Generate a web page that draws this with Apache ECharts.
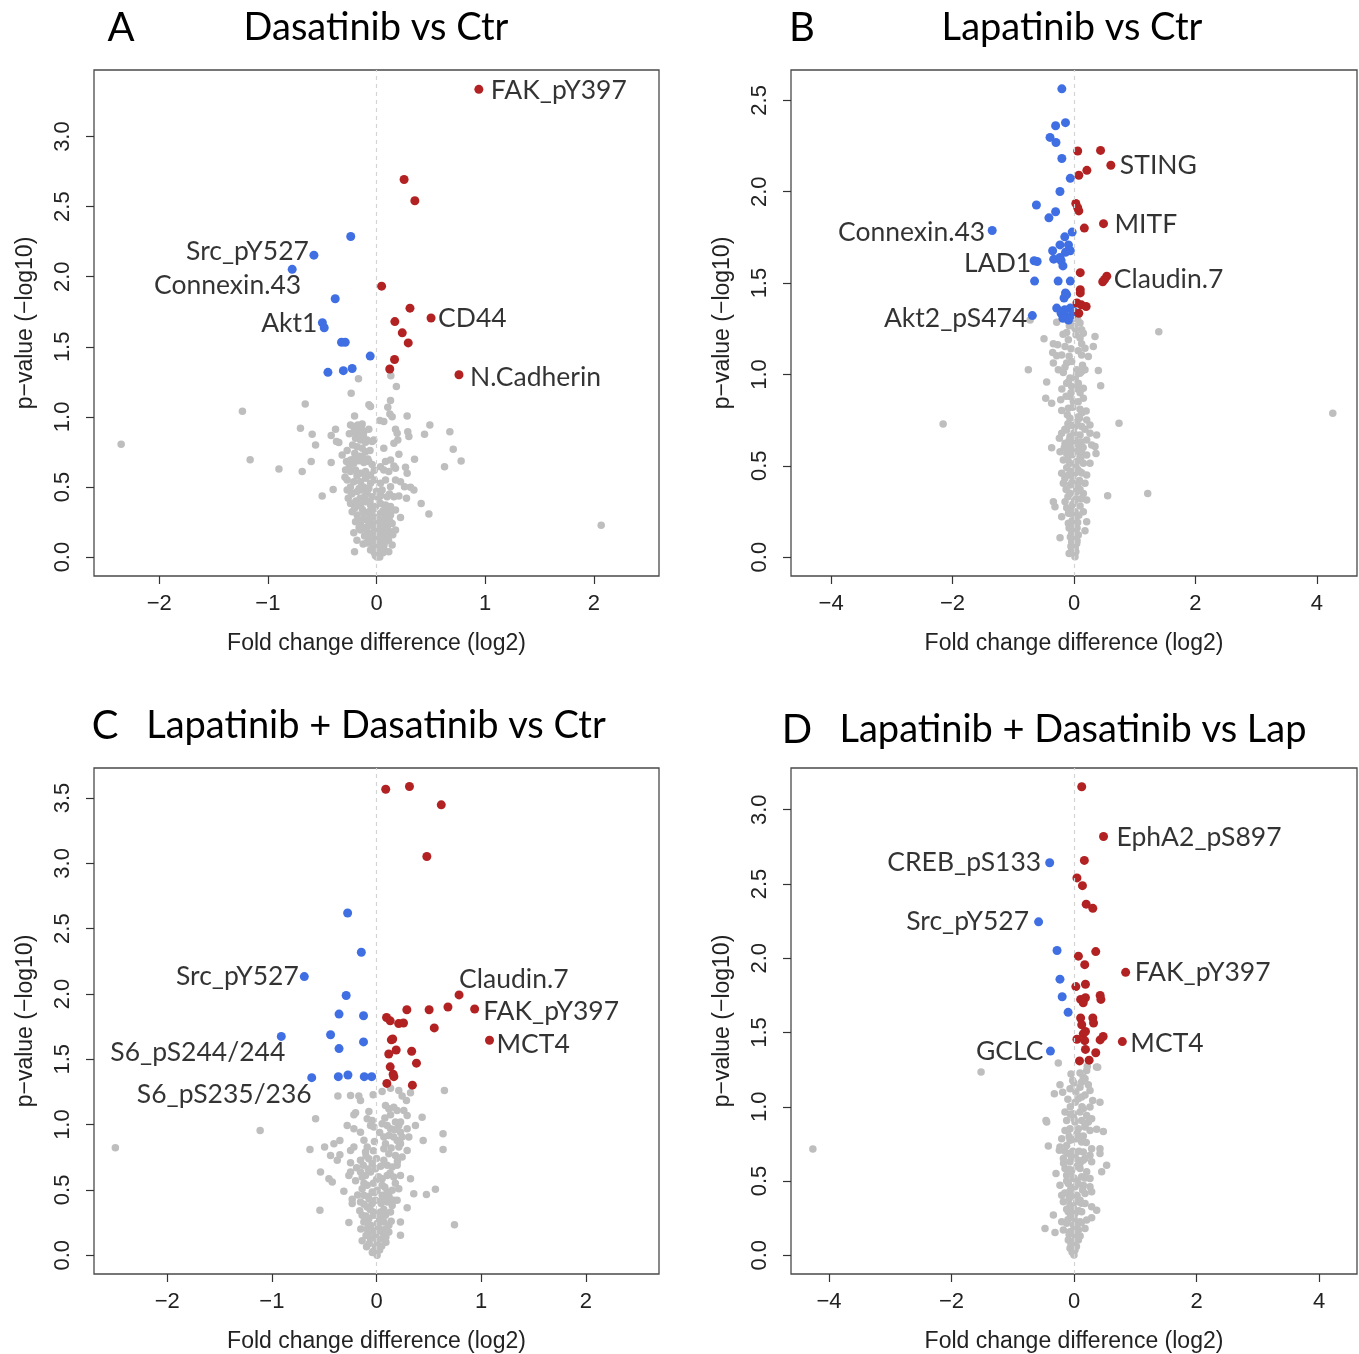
<!DOCTYPE html>
<html><head><meta charset="utf-8">
<script src="https://cdn.jsdelivr.net/npm/echarts@6/dist/echarts.min.js"></script>
<style>html,body{margin:0;padding:0;background:#fff}#c{width:1359px;height:1354px}</style>
</head><body><div id="c"></div>
<script>
// ---------- Panel A: Dasatinib vs Ctr ----------
const redA = [[0.942,3.337],[0.254,2.694],[0.353,2.542],[0.047,1.933],[0.308,1.776],[0.502,1.706],[0.169,1.68],[0.237,1.6],[0.292,1.528],[0.166,1.41],[0.122,1.342],[0.759,1.301]];
const blueA = [[-0.237,2.287],[-0.576,2.154],[-0.776,2.053],[-0.38,1.843],[-0.498,1.672],[-0.481,1.636],[-0.322,1.533],[-0.288,1.533],[-0.058,1.434],[-0.447,1.318],[-0.305,1.33],[-0.224,1.345]];
const grayA = [[-2.35,0.805],[-1.234,1.041],[-1.163,0.694],[-0.898,0.629],[-0.166,1.272],[0.132,1.294],[0.183,1.217],[2.068,0.227],[-0.233,1.169],[-0.656,1.093],
[-0.07,1.086],[-0.055,1.074],[0.129,1.117],[0.104,1.069],[0.123,1.021],[0.144,1.002],[-0.202,1.007],[0.282,1.007],[0.031,0.974],[0.067,0.967],[0.491,0.943],[0.675,0.895],[0.442,0.876],[0.288,0.895],[0.298,0.86],[0.175,0.912],[0.19,0.883],[0.196,0.836],[0.16,0.812],[-0.70,0.919],[-0.592,0.876],[-0.561,0.80],[-0.377,0.912],[-0.417,0.867],[-0.368,0.824],[-0.347,0.817],
[-0.239,0.943],[-0.209,0.931],[-0.172,0.943],[-0.132,0.95],[-0.209,0.895],[-0.163,0.883],[-0.117,0.895],[-0.071,0.912],[-0.193,0.848],[-0.147,0.836],[-0.086,0.836],[-0.04,0.824],[-0.178,0.788],[-0.132,0.776],[-0.101,0.752],[-0.025,0.836],[0.067,0.776],[0.206,0.733],[0.35,0.698],[0.626,0.645],[0.706,0.769],[0.779,0.686],[-0.601,0.681],[-0.417,0.674],[-0.684,0.61],[-0.316,0.729],
[-0.276,0.681],[-0.239,0.693],[-0.209,0.669],[-0.163,0.688],[-0.117,0.674],[-0.071,0.681],[0.037,0.645],[0.083,0.681],[0.129,0.693],[0.16,0.65],[0.067,0.621],[0.113,0.61],[0.175,0.633],[0.267,0.64],[0.282,0.598],[-0.285,0.621],[-0.239,0.61],[-0.193,0.621],[-0.147,0.598],[-0.101,0.61],[-0.055,0.586],
[-0.27,0.55],[-0.209,0.538],[-0.147,0.538],[-0.101,0.562],[-0.055,0.526],[0.037,0.526],[0.083,0.55],[0.129,0.502],[0.175,0.55],[0.221,0.538],[0.258,0.502],[0.313,0.498],[0.344,0.479],[-0.399,0.483],[-0.50,0.436],[-0.27,0.479],[-0.224,0.455],[-0.178,0.467],[-0.132,0.479],[-0.086,0.455],[-0.04,0.431],[0.052,0.479],[0.098,0.431],[0.16,0.431],[0.206,0.436],[0.276,0.419],[0.411,0.383],[0.482,0.307],
[-0.239,0.383],[-0.193,0.36],[-0.147,0.371],[-0.101,0.395],[-0.055,0.371],[-0.009,0.36],[0.037,0.383],[0.083,0.371],[0.129,0.36],[0.175,0.336],[-0.224,0.324],[-0.178,0.30],[-0.117,0.312],[-0.071,0.324],[-0.025,0.288],[0.037,0.312],[0.083,0.288],[0.129,0.30],[0.221,0.283],
[-0.193,0.252],[-0.147,0.24],[-0.086,0.264],[-0.04,0.229],[0.006,0.24],[0.052,0.252],[0.098,0.229],[0.144,0.24],[-0.209,0.174],[-0.147,0.193],[-0.086,0.181],[-0.04,0.169],[0.021,0.181],[0.067,0.169],[0.129,0.181],[0.175,0.193],[-0.123,0.093],[-0.071,0.121],[-0.009,0.11],[0.037,0.133],[0.098,0.121],[0.144,0.086],[-0.202,0.038],[-0.055,0.05],[0.006,0.026],[0.067,0.062],[0.113,0.038],[0.005,0.0],
[-0.16,0.72],[-0.2,0.74],[-0.08,0.7],[-0.24,0.5],[-0.12,0.5],[-0.02,0.55],[0.02,0.42],[-0.15,0.42],[-0.26,0.42],[-0.06,0.3],[0.08,0.34],[0.0,0.2],[-0.1,0.21],[0.1,0.21],[0.03,0.09],[-0.04,0.07],[0.06,0.03],[-0.03,0.14],[0.09,0.15],[-0.18,0.12],[-0.12,0.86],[-0.22,0.8],[-0.06,0.76],
[-0.25,0.88],[-0.19,0.9],[-0.14,0.92],[-0.1,0.82],[-0.27,0.76],[-0.21,0.7],[-0.13,0.72],[-0.04,0.66],[-0.25,0.65],[-0.18,0.58],[-0.08,0.58],[-0.02,0.62],[-0.29,0.57],[-0.23,0.45],[-0.16,0.49],[-0.07,0.49],[0.0,0.47],[-0.19,0.4],[-0.11,0.43],[-0.06,0.4],[0.04,0.44],[0.12,0.45],[-0.2,0.35],[-0.13,0.34],[-0.03,0.34],[0.06,0.33],[0.11,0.32],[-0.17,0.27],[-0.12,0.27],[-0.05,0.26],[0.02,0.27],[0.07,0.26],[0.12,0.26],[-0.16,0.21],[-0.08,0.22],[-0.02,0.2],[0.04,0.21],[0.08,0.19],[0.15,0.16],[-0.11,0.15],[-0.05,0.16],[0.01,0.15],[0.05,0.13],[0.11,0.12],[-0.09,0.1],[-0.03,0.1],[0.02,0.07],[0.07,0.09],[-0.02,0.03],[0.04,0.05],[0.03,0.0],[-0.01,0.01]];
const labelsA = [['FAK_pY397',0.942,3.337],['Src_pY527',-0.576,2.154],['Connexin.43',-0.776,2.053],['Akt1',-0.498,1.672],['CD44',0.502,1.706],['N.Cadherin',0.759,1.301]];

// ---------- Panel B: Lapatinib vs Ctr ----------
const redB = [[0.061,2.223],[0.437,2.226],[0.607,2.145],[0.212,2.117],[0.079,2.09],[0.03,1.936],[0.079,1.895],[0.061,1.912],[0.486,1.825],[0.17,1.801],[0.103,1.557],[0.54,1.538],[0.473,1.507],[0.504,1.52],[0.103,1.464],[0.103,1.446],[0.049,1.391],[0.121,1.381],[0.2,1.372],[0.079,1.335]];
const blueB = [[-0.2,2.563],[-0.14,2.378],[-0.303,2.361],[-0.395,2.297],[-0.297,2.269],[-0.2,2.182],[-0.061,2.073],[-0.231,2.001],[-0.619,1.927],[-0.303,1.89],[-0.413,1.857],[-1.347,1.788],[-0.03,1.779],[-0.152,1.753],[-0.231,1.709],[-0.091,1.709],[-0.061,1.677],[-0.14,1.668],[-0.352,1.677],[-0.334,1.631],[-0.212,1.622],[-0.182,1.594],[-0.231,1.64],[-0.656,1.622],[-0.607,1.618],[-0.649,1.511],[-0.261,1.511],[-0.061,1.511],[-0.14,1.446],[-0.164,1.418],[-0.121,1.437],[-0.285,1.363],[-0.152,1.354],[-0.061,1.363],[-0.212,1.335],[-0.121,1.317],[-0.03,1.326],[-0.182,1.307],[-0.091,1.298],[0.0,1.344],[-0.686,1.322]];
const grayB = [[-2.155,0.729],[1.396,1.233],[1.214,0.349],[4.261,0.788],[-0.722,1.298],
[-0.285,1.285],[-0.077,1.266],[0,1.263],[0.099,1.281],[0.126,1.245],[-0.121,1.23],[0.033,1.217],[0.154,1.226],[-0.494,1.195],[-0.34,1.168],[-0.269,1.162],[-0.148,1.153],[-0.093,1.19],[0.126,1.168],[0.181,1.144],[0.318,1.153],[0.346,1.208],[-0.351,1.12],[-0.285,1.102],[-0.203,1.107],[-0.121,1.062],[-0.038,1.071],[0.126,1.107],[0.236,1.098],[0.099,1.007],[0.044,1.025],[-0.752,1.025],
[-0.34,1.062],[-0.258,1.025],[-0.176,1.011],[-0.066,0.98],[-0.121,0.952],[-0.038,0.934],[0.071,0.952],[0.154,0.925],[0.126,1.016],[0.181,1.025],[0.401,1.022],[0.439,0.938],[-0.45,0.958],[-0.466,0.87],[-0.368,0.842],[-0.219,0.861],[-0.066,0.879],[-0.011,0.852],[0.154,0.87],[-0.093,0.815],[-0.203,0.802],[0.099,0.81],[0.741,0.733],
[-0.066,0.76],[0.071,0.769],[0.209,0.751],[0.016,0.715],[0.126,0.715],[0.263,0.724],[-0.121,0.696],[-0.203,0.678],[-0.066,0.66],[0.099,0.669],[0.263,0.678],[0.373,0.669],[-0.241,0.651],[-0.148,0.623],[-0.038,0.632],[0.071,0.614],[0.209,0.641],[0.291,0.614],[-0.368,0.599],[0.346,0.605],[0.362,0.568],
[-0.23,0.577],[-0.121,0.568],[-0.011,0.577],[0.099,0.55],[0.209,0.559],[-0.176,0.532],[-0.066,0.514],[0.044,0.523],[0.154,0.514],[0.263,0.514],[-0.203,0.459],[-0.093,0.45],[0.016,0.459],[0.099,0.468],[0.209,0.45],[-0.176,0.404],[-0.066,0.395],[0.071,0.404],[0.181,0.404],[0.554,0.336],
[-0.34,0.303],[-0.313,0.276],[-0.148,0.303],[-0.066,0.349],[0.044,0.358],[0.154,0.349],[0.209,0.313],[-0.203,0.221],[-0.066,0.239],[0.016,0.249],[0.154,0.249],[0.209,0.194],[0.181,0.144],[-0.093,0.185],[0.016,0.166],[-0.038,0.13],[0.071,0.121],[-0.23,0.106],[-0.038,0.084],[0.044,0.075],[-0.011,0.038],[0.016,0.002],
[-0.02,0.29],[0.03,0.22],[-0.03,0.2],[0.05,0.16],[-0.05,0.06],[0.02,0.05],[0.0,0.12],[0.04,0.32],[-0.1,0.33],[0.1,0.37],[-0.02,0.44],[0.06,0.48],[-0.12,0.49],[0.12,0.58],[-0.06,0.6],[0.02,0.64],[-0.1,0.73],[0.05,0.74],[0.13,0.79],[-0.05,0.9],[0.06,0.92],[-0.2,0.92],[0.02,0.98],[-0.08,1.1],[0.07,1.13],[-0.04,1.3],[0.06,1.3],
[-0.08,0.02],[0.03,0.03],[-0.04,0.05],[0.05,0.09],[-0.06,0.11],[0.03,0.14],[-0.08,0.16],[0.06,0.19],[-0.02,0.17],[-0.09,0.24],[0.08,0.23],[-0.04,0.26],[0.1,0.28],[-0.12,0.27],[0.01,0.31],[-0.07,0.35],[0.12,0.32],[0.04,0.38],[-0.13,0.37],[-0.03,0.41],[0.09,0.42],[-0.15,0.43],[0.13,0.46],[-0.05,0.47],[0.03,0.5],[-0.1,0.53],[0.11,0.54],[-0.03,0.56],[0.06,0.58],[-0.16,0.6],[0.15,0.6],[-0.08,0.64],[0.12,0.63],[0.0,0.68],[-0.15,0.7],[0.18,0.7],[-0.03,0.72],[0.09,0.76],[-0.11,0.78],[0.2,0.8],[-0.02,0.82],[0.07,0.85],[-0.13,0.88],[0.1,0.9],[-0.09,0.96],[0.04,1.0],[-0.15,1.04],[0.14,1.05],[-0.05,1.14],[0.1,1.2],[-0.18,1.22],[0.02,1.25]];
const labelsB = [['STING',0.607,2.145],['Connexin.43',-1.347,1.788],['MITF',0.486,1.825],['LAD1',-0.656,1.622],['Claudin.7',0.54,1.538],['Akt2_pS474',-0.686,1.322]];

// ---------- Panel C: Lapatinib + Dasatinib vs Ctr ----------
const redC = [[0.088,3.567],[0.315,3.588],[0.619,3.448],[0.481,3.052],[0.789,1.993],[0.938,1.885],[0.683,1.9],[0.503,1.879],[0.29,1.879],[0.552,1.74],[0.096,1.82],[0.131,1.794],[0.212,1.773],[0.258,1.778],[1.08,1.646],[0.142,1.649],[0.155,1.655],[0.188,1.571],[0.117,1.54],[0.336,1.561],[0.382,1.47],[0.131,1.442],[0.159,1.385],[0.166,1.367],[0.099,1.315],[0.343,1.302]];
const blueC = [[-0.276,2.62],[-0.145,2.319],[-0.69,2.133],[-0.29,1.988],[-0.358,1.846],[-0.124,1.833],[-0.91,1.675],[-0.439,1.688],[-0.358,1.582],[-0.124,1.633],[-0.619,1.359],[-0.365,1.367],[-0.273,1.38],[-0.117,1.367],[-0.046,1.367]];
const grayC = [[-2.496,0.823],[-1.112,0.955],
[-0.369,1.218],[-0.248,1.223],[-0.169,1.218],[-0.153,1.184],[-0.032,1.228],[0.054,1.253],[0.134,1.279],[0.213,1.261],[0.245,1.218],[0.286,1.184],[0.325,1.243],[0.649,1.261],[-0.2,1.09],[-0.216,1.075],[-0.073,1.1],[-0.041,1.032],[0.086,1.146],[0.118,1.121],[0.165,1.133],[0.134,1.075],[0.197,1.108],[0.261,1.108],[0.293,1.07],[-0.582,1.044],
[-0.28,0.993],[-0.216,0.968],[-0.153,0.942],[-0.089,1.044],[-0.057,0.993],[-0.025,0.981],[0.054,1.006],[0.102,0.993],[0.134,0.968],[0.181,1.019],[0.213,0.993],[0.229,0.942],[0.293,0.968],[0.372,0.993],[0.436,1.057],[0.07,0.904],[0.118,0.917],[0.165,0.904],[0.197,0.879],[0.245,0.904],[0.309,0.904],[0.229,0.853],[0.213,0.828],[0.636,0.93],[0.446,0.879],
[-0.407,0.853],[-0.35,0.879],[-0.496,0.828],[-0.636,0.81],[-0.439,0.764],[-0.35,0.769],[-0.248,0.802],[-0.216,0.828],[-0.089,0.828],[-0.105,0.79],[0.086,0.853],[0.07,0.815],[0.118,0.777],[0.181,0.764],[0.245,0.751],[0.293,0.802],[0.636,0.81],
[-0.535,0.637],[-0.455,0.586],[-0.423,0.56],[-0.375,0.726],[-0.248,0.708],[-0.153,0.726],[-0.127,0.688],[-0.073,0.739],[-0.041,0.7],[-0.248,0.637],[-0.264,0.611],[-0.153,0.637],[-0.137,0.599],[-0.105,0.611],[-0.057,0.637],[-0.01,0.662],[0.07,0.726],[0.102,0.688],[0.15,0.675],[0.197,0.688],[0.229,0.611],[0.165,0.599],[0.102,0.611],[0.054,0.586],[0.325,0.586],[0.054,0.535],
[-0.312,0.489],[-0.232,0.428],[-0.232,0.395],[-0.137,0.509],[-0.089,0.535],[-0.121,0.458],[-0.041,0.484],[0.006,0.497],[0.054,0.458],[0.102,0.484],[0.15,0.497],[0.213,0.509],[0.165,0.42],[0.102,0.408],[0.045,0.395],[0.356,0.471],[0.477,0.464],[0.563,0.504],[-0.541,0.344],[-0.153,0.408],[-0.089,0.369],[-0.041,0.395],[-0.01,0.42],[0.197,0.42],[0.293,0.364],
[-0.137,0.306],[-0.073,0.28],[-0.025,0.306],[0.038,0.331],[0.086,0.306],[0.134,0.331],[-0.121,0.255],[-0.057,0.229],[0.006,0.242],[0.07,0.255],[0.118,0.229],[-0.264,0.25],[0.229,0.255],[0.745,0.234],[-0.073,0.178],[-0.01,0.166],[0.054,0.178],[0.118,0.178],[0.229,0.153],[-0.057,0.127],[0.006,0.102],[0.054,0.127],[-0.137,0.11],[-0.095,0.064],[-0.01,0.064],[0.006,0.0],
[-0.03,0.55],[0.02,0.6],[-0.08,0.45],[0.08,0.44],[-0.03,0.33],[0.03,0.28],[-0.09,0.2],[0.03,0.2],[0.09,0.1],[-0.03,0.03],[0.0,0.74],[-0.02,0.87],
[-0.04,0.02],[0.03,0.04],[-0.07,0.09],[0.05,0.07],[0.0,0.13],[-0.1,0.15],[0.09,0.14],[-0.04,0.19],[0.02,0.21],[0.09,0.2],[-0.15,0.2],[-0.08,0.24],[0.04,0.26],[0.14,0.26],[-0.1,0.3],[0.0,0.31],[0.07,0.35],[-0.16,0.34],[-0.06,0.35],[0.15,0.38],[-0.12,0.39],[0.05,0.42],[-0.18,0.46],[-0.07,0.43],[0.12,0.45],[-0.02,0.48],[0.08,0.52],[-0.12,0.55],[0.18,0.55],[-0.2,0.57],[0.0,0.58],[0.13,0.63],[-0.08,0.66],[0.04,0.68],[-0.19,0.67],[0.2,0.72],[-0.1,0.76],[0.14,0.82],[-0.03,0.8],[0.22,0.87],[0.03,0.94],[-0.12,0.88],[0.17,0.96],[0.23,1.02],[0.08,1.05]];
const labelsC = [['Src_pY527',-0.69,2.133],['Claudin.7',0.789,1.993],['FAK_pY397',0.938,1.885],['MCT4',1.08,1.646],['S6_pS244/244',-0.91,1.675],['S6_pS235/236',-0.619,1.359]];

// ---------- Panel D: Lapatinib + Dasatinib vs Lap ----------
const redD = [[0.126,3.155],[0.482,2.82],[0.169,2.659],[0.048,2.541],[0.138,2.489],[0.199,2.364],[0.307,2.336],[0.072,2.014],[0.355,2.045],[0.175,1.957],[0.843,1.905],[0.03,1.809],[0.187,1.825],[0.108,1.723],[0.187,1.734],[0.151,1.70],[0.427,1.75],[0.439,1.723],[0.108,1.598],[0.307,1.598],[0.126,1.552],[0.319,1.564],[0.187,1.507],[0.151,1.491],[0.048,1.455],[0.175,1.445],[0.427,1.45],[0.476,1.473],[0.789,1.439],[0.187,1.386],[0.355,1.364],[0.09,1.309],[0.247,1.314]];
const blueD = [[-0.397,2.643],[-0.578,2.245],[-0.277,2.052],[-0.229,1.859],[-0.193,1.741],[-0.096,1.636],[-0.385,1.375]];
const grayD = [[-4.263,0.716],[-1.517,1.234],[0.367,1.268],[0.217,1.273],
[-0.256,1.295],[-0.049,1.221],[0.098,1.228],[0.207,1.244],[0.386,1.266],[-0.022,1.177],[0.125,1.166],[0.18,1.188],[0.234,1.148],[0.261,1.11],[-0.229,1.148],[-0.321,1.087],[-0.185,1.098],[-0.065,1.121],[0.098,1.132],[0.071,1.054],[0.125,1.065],[0.305,1.043],[0.424,1.031],[0.261,0.998],[0.152,0.987],
[-0.147,0.964],[-0.011,0.953],[0.098,0.964],[0.207,0.942],[-0.12,0.908],[0.016,0.897],[0.125,0.908],[0.234,0.897],[0.288,0.919],[-0.457,0.908],[-0.446,0.897],[-0.065,0.852],[0.071,0.852],[0.18,0.864],[0.261,0.841],[0.37,0.848],[0.479,0.834],[-0.147,0.841],
[-0.201,0.785],[-0.065,0.774],[0.044,0.785],[0.152,0.803],[0.125,0.763],[-0.229,0.729],[-0.12,0.74],[-0.419,0.736],[-0.239,0.707],[-0.093,0.685],[0.016,0.673],[0.152,0.696],[0.288,0.718],[0.424,0.718],[0.424,0.685],[0.261,0.673],
[-0.174,0.651],[-0.065,0.629],[0.071,0.64],[0.18,0.651],[0.288,0.629],[0.533,0.606],[0.452,0.562],[-0.294,0.55],[-0.147,0.584],[-0.038,0.573],[0.098,0.584],[0.207,0.562],[-0.12,0.539],[-0.011,0.517],[0.125,0.528],[0.261,0.517],
[-0.229,0.472],[-0.093,0.483],[0.016,0.461],[0.152,0.472],[0.261,0.461],[-0.201,0.405],[-0.065,0.427],[0.044,0.405],[0.18,0.416],[0.288,0.427],[-0.174,0.36],[-0.065,0.338],[0.044,0.36],[0.18,0.349],[0.37,0.304],[0.288,0.327],
[-0.093,0.293],[0.016,0.282],[0.125,0.293],[-0.337,0.271],[-0.201,0.226],[-0.12,0.215],[-0.011,0.204],[0.098,0.226],[0.207,0.237],[0.288,0.253],[-0.473,0.181],[-0.31,0.154],[-0.174,0.17],[-0.065,0.159],[0.071,0.17],[0.18,0.181],[-0.093,0.103],[-0.011,0.092],[0.071,0.103],[-0.065,0.047],[0.016,0.036],[0,0.002],
[-0.05,0.56],[0.05,0.5],[-0.04,0.4],[0.1,0.37],[-0.03,0.26],[0.04,0.22],[-0.1,0.42],[0.1,0.62],[-0.02,0.7],[0.05,0.82],[-0.06,1.0],[0.03,1.1],[-0.08,0.8],[0.02,0.14],
[-0.03,0.02],[0.04,0.06],[-0.05,0.08],[0.03,0.12],[-0.08,0.14],[0.1,0.13],[-0.03,0.16],[0.05,0.2],[-0.1,0.24],[0.12,0.22],[0.0,0.25],[-0.06,0.28],[0.08,0.3],[-0.12,0.31],[-0.01,0.32],[0.12,0.35],[-0.08,0.38],[0.05,0.4],[-0.15,0.42],[0.14,0.44],[-0.05,0.45],[0.07,0.48],[-0.12,0.5],[0.0,0.52],[0.18,0.52],[-0.08,0.58],[0.05,0.6],[-0.17,0.62],[0.15,0.64],[-0.04,0.66],[0.08,0.7],[-0.15,0.7],[0.2,0.76],[-0.02,0.78],[0.1,0.8],[-0.1,0.84],[0.18,0.88],[0.0,0.92],[-0.06,0.95],[0.13,1.0],[0.02,1.03],[-0.1,1.05],[0.18,1.08],[0.0,1.16],[0.15,1.2]];
const labelsD = [['EphA2_pS897',0.482,2.82],['CREB_pS133',-0.397,2.643],['Src_pY527',-0.578,2.245],['FAK_pY397',0.843,1.905],['MCT4',0.789,1.439],['GCLC',-0.385,1.375]];

// ---------- axis ticks / titles ----------
const xTicksAC = [-2,-1,0,1,2];
const xTicksBD = [-4,-2,0,2,4];
const yTicksA = [0,0.5,1,1.5,2,2.5,3];
const yTicksB = [0,0.5,1,1.5,2,2.5];
const yTicksC = [0,0.5,1,1.5,2,2.5,3,3.5];
const yTicksD = [0,0.5,1,1.5,2,2.5,3];
const panelLetters = ['A','B','C','D'];
const panelTitles = ['Dasatinib vs Ctr','Lapatinib vs Ctr','Lapatinib + Dasatinib vs Ctr','Lapatinib + Dasatinib vs Lap'];
const xName = 'Fold change difference (log2)';
const yName = 'p\u2212value (\u2212log10)';

// ---------- layout / style (not data) ----------
const grids = [
  {left:94, top:70, width:565, height:506},
  {left:791, top:70, width:566, height:506},
  {left:94, top:768, width:565, height:506},
  {left:791, top:768, width:566, height:506}
];
const xRanges = [[-2.6,2.6],[-4.66,4.66],[-2.7,2.7],[-4.62,4.62]];
const yRanges = [[-0.135,3.475],[-0.103,2.666],[-0.144,3.73],[-0.126,3.281]];
const labelStyles = [
  {'FAK_pY397':['right',7.5,[0,1]],'Src_pY527':['left',0.5,[0,-4]],'Connexin.43':['left',0,[13.5,16]],'Akt1':['left',0.5,[0,1]],'CD44':['right',2.5,[0,0]],'N.Cadherin':['right',6.5,[0,3]]},
  {'STING':['right',4.5,[0,0]],'Connexin.43':['left',2.5,[0,2]],'MITF':['right',6.5,[0,1]],'LAD1':['left',0,[1.5,3]],'Claudin.7':['right',2.5,[0,3]],'Akt2_pS474':['left',0.5,[0,3]]},
  {'Src_pY527':['left',1,[0,0]],'Claudin.7':['right',0,[-4.5,-15]],'FAK_pY397':['right',4,[0,2]],'MCT4':['right',2.5,[0,4]],'S6_pS244/244':['left',0,[8.5,16]],'S6_pS235/236':['left',0,[4.5,17]]},
  {'EphA2_pS897':['right',8.5,[0,1]],'CREB_pS133':['left',4,[0,0]],'Src_pY527':['left',5,[0,0]],'FAK_pY397':['right',4.5,[0,0]],'MCT4':['right',3.5,[0,2]],'GCLC':['left',2.5,[0,0]]}
];
const titleCenters = [[[121,28],[376,28]],[[802,28],[1072,28]],[[105,726],[376,726]],[[797,730],[1073,730]]];

const RED = '#B22222', BLUE = '#3F6FE3', GRAY = '#BEBEBE';
const TICKFONT = 'Liberation Sans, Arial, sans-serif';
const LABFONT = 'Lato, Open Sans, sans-serif';

const grays = [grayA, grayB, grayC, grayD];
const reds = [redA, redB, redC, redD];
const blues = [blueA, blueB, blueC, blueD];
const labels = [labelsA, labelsB, labelsC, labelsD];
const xTicks = [xTicksAC, xTicksBD, xTicksAC, xTicksBD];
const yTicks = [yTicksA, yTicksB, yTicksC, yTicksD];

const fmtX = v => (v < 0 ? '\u2212' + Math.abs(v) : String(v));
const fmtY = v => v.toFixed(1);

const option = {
  animation: false,
  backgroundColor: '#ffffff',
  grid: grids.map(g => Object.assign({show:true, borderColor:'#4a4a4a', borderWidth:1.3, backgroundColor:'transparent'}, g)),
  xAxis: grids.map((g, i) => ({
    gridIndex: i, type: 'value', min: xRanges[i][0], max: xRanges[i][1], position: 'bottom',
    splitLine: {show:false}, axisLine: {show:false, onZero:false},
    axisTick: {show:true, inside:false, length:8, customValues: xTicks[i], lineStyle:{color:'#333', width:1.2}},
    axisLabel: {customValues: xTicks[i], formatter: fmtX, fontSize:22, color:'#222', margin:17, fontFamily: TICKFONT},
    name: xName, nameLocation: 'middle', nameGap: 56,
    nameTextStyle: {fontSize:23, color:'#222', fontFamily: TICKFONT}
  })),
  yAxis: grids.map((g, i) => ({
    gridIndex: i, type: 'value', min: yRanges[i][0], max: yRanges[i][1], position: 'left',
    splitLine: {show:false}, axisLine: {show:false, onZero:false},
    axisTick: {show:true, inside:false, length:8, customValues: yTicks[i], lineStyle:{color:'#333', width:1.2}},
    axisLabel: {customValues: yTicks[i], formatter: fmtY, rotate: 90, fontSize:22, color:'#222', margin:20, fontFamily: TICKFONT},
    name: yName, nameLocation: 'middle', nameGap: 57, nameRotate: 90,
    nameTextStyle: {fontSize:23, color:'#222', fontFamily: TICKFONT}
  })),
  graphic: [],
  series: []
};

titleCenters.forEach((tc, i) => {
  option.graphic.push({type:'text', z:10, style:{text: panelLetters[i], x: tc[0][0], y: tc[0][1], align:'center', verticalAlign:'middle', font:'40px Lato, sans-serif', fill:'#000'}});
  option.graphic.push({type:'text', z:10, style:{text: panelTitles[i], x: tc[1][0], y: tc[1][1], align:'center', verticalAlign:'middle', font:'38px Lato, sans-serif', fill:'#000'}});
});

for (let i = 0; i < 4; i++) {
  option.series.push({
    type:'scatter', xAxisIndex:i, yAxisIndex:i, data: grays[i], symbolSize:7.5,
    itemStyle:{color:GRAY, opacity:1}, z:2, silent:true,
    markLine:{silent:true, symbol:'none', label:{show:false}, lineStyle:{type:[4,4], color:'#d4d4d4', width:1.2}, data:[{xAxis:0}]}
  });
  option.series.push({type:'scatter', xAxisIndex:i, yAxisIndex:i, data: blues[i], symbolSize:9, itemStyle:{color:BLUE, opacity:1}, z:3, silent:true});
  option.series.push({type:'scatter', xAxisIndex:i, yAxisIndex:i, data: reds[i], symbolSize:9, itemStyle:{color:RED, opacity:1}, z:3, silent:true});
  option.series.push({
    type:'scatter', xAxisIndex:i, yAxisIndex:i, symbolSize:9, z:4, silent:true,
    itemStyle:{color:'rgba(0,0,0,0)'},
    data: labels[i].map(l => {
      const s = labelStyles[i][l[0]];
      return {name:l[0], value:[l[1], l[2]], label:{show:true, position:s[0], distance:s[1], offset:s[2], formatter:'{b}', fontSize:26.5, fontFamily:LABFONT, color:'#000'}};
    })
  });
}

const chart = echarts.init(document.getElementById('c'), null, {renderer:'canvas'});
chart.setOption(option);
</script></body></html>
